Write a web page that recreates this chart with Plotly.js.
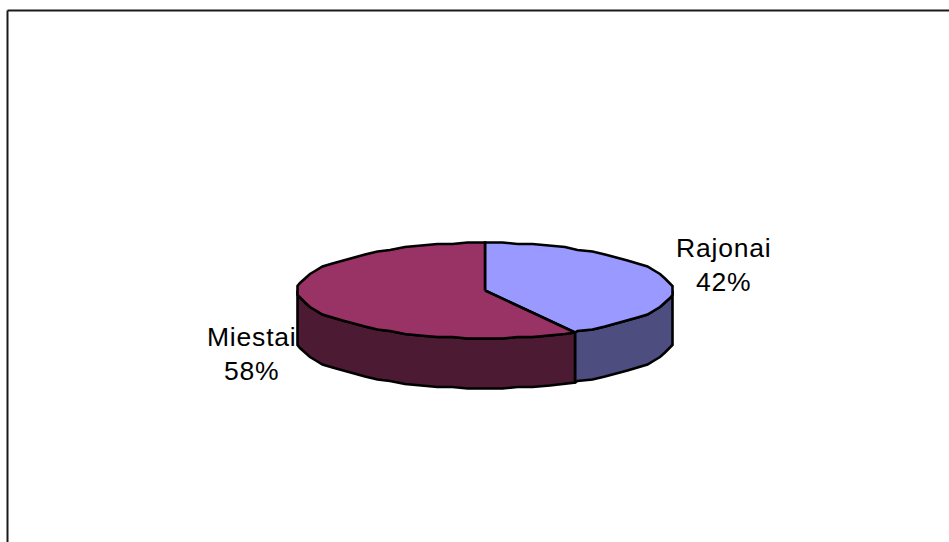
<!DOCTYPE html>
<html>
<head>
<meta charset="utf-8">
<script src="https://cdn.plot.ly/plotly-3.0.1.min.js"></script>
<style>
html,body{margin:0;padding:0;background:#fff;overflow:hidden}
.annotation-text{letter-spacing:0.8px}
</style>
</head>
<body>
<div id="chart" style="width:949px;height:542px"></div>
<script>
// Share of the total per area type
const categories = ['Rajonai', 'Miestai'];
const shares = [42, 58];
const topColors = ['#9999ff', '#993366'];
const sideColors = ['#4d4d80', '#4d1a33'];
const labelAnchors = [[723.5, 265], [252, 354]];

// Disc geometry in the pixel-like axis units used below
const cx = 485, cy = 290.5, rx = 187.5, ry = 47.5, depth = 50;
const stepDeg = 5;
const snapX = 2.5, snapY = 1.5;   // rim vertices sit on this grid, which gives the slightly rough edge
const outline = '#000000';

// Point on the rim; angle is clockwise from twelve o'clock
function rim(deg, drop) {
  const a = deg * Math.PI / 180;
  const dx = rx * Math.sin(a);
  const dy = -ry * Math.cos(a);
  return [cx + Math.round(dx / snapX) * snapX, cy + Math.round(dy / snapY) * snapY + drop];
}
// Vertices fall on one shared set of angles, so the wall and the lid always agree
function arc(from, to, drop) {
  const angles = [from];
  for (let d = Math.ceil(from / stepDeg + 1e-6) * stepDeg; d < to - 1e-6; d += stepDeg) angles.push(d);
  angles.push(to);
  return angles.map(d => rim(d, drop));
}
function polygon(pts, fill, name) {
  return {
    type: 'scatter', mode: 'lines', fill: 'toself', fillcolor: fill,
    x: pts.map(p => p[0]), y: pts.map(p => p[1]),
    line: {color: outline, width: 2.6, shape: 'linear'},
    name: name, hoverinfo: 'name', showlegend: false
  };
}

const total = shares.reduce((s, v) => s + v, 0);
const walls = [], tops = [];
let start = 0;
shares.forEach((v, i) => {
  const end = start + v / total * 360;
  // Only the part of the rim facing the viewer (90 to 270 degrees) has a wall
  const wFrom = Math.max(start, 90), wTo = Math.min(end, 270);
  if (wTo > wFrom) {
    const upper = arc(wFrom, wTo, 0);
    const lower = arc(wFrom, wTo, depth).reverse();
    const ring = upper.concat(lower);
    ring.push(upper[0]);
    walls.push(polygon(ring, sideColors[i], categories[i]));
  }
  const wedge = [[cx, cy]].concat(arc(start, end, 0));
  wedge.push([cx, cy]);
  tops.push(polygon(wedge, topColors[i], categories[i]));
  start = end;
});

const annotations = categories.map((c, i) => ({
  x: labelAnchors[i][0], y: labelAnchors[i][1], xref: 'x', yref: 'y',
  text: c + '<br>' + shares[i] + '%', showarrow: false, align: 'center',
  font: {family: '"Liberation Sans", Arial, sans-serif', size: 26.5, color: '#000000'}
}));

const frameLine = {color: '#1a1a1a', width: 2};
const layout = {
  width: 949, height: 542,
  margin: {l: 0, r: 0, t: 0, b: 0},
  paper_bgcolor: '#ffffff', plot_bgcolor: '#ffffff',
  xaxis: {range: [0, 949], visible: false, fixedrange: true},
  yaxis: {range: [542, 0], visible: false, fixedrange: true},
  showlegend: false,
  annotations: annotations,
  shapes: [
    {type: 'line', xref: 'x', yref: 'y', x0: 7.5, x1: 949, y0: 10.5, y1: 10.5, line: frameLine},
    {type: 'line', xref: 'x', yref: 'y', x0: 7.5, x1: 7.5, y0: 10.5, y1: 542, line: frameLine}
  ]
};

Plotly.newPlot('chart', walls.concat(tops), layout, {displayModeBar: false, responsive: false});
</script>
</body>
</html>
